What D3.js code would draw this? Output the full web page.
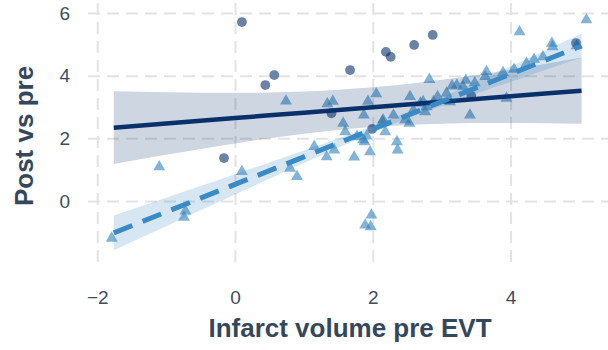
<!DOCTYPE html>
<html>
<head>
<meta charset="utf-8">
<script src="https://cdn.jsdelivr.net/npm/d3@7"></script>
<style>
  body { margin: 0; background: #fff; }
  svg { display: block; font-family: "Liberation Sans", Arial, sans-serif; }
</style>
</head>
<body>
<svg id="chart" width="608" height="350"></svg>
<script>
// Tick positions
const xTicks = [-2, 0, 2, 4];
const yTicks = [0, 2, 4, 6];

// Group 1 (circles): infarct volume pre EVT vs post/pre
const circX = [0.10, 0.44, 0.57, -0.16, 1.67, 2.19, 2.26, 2.60, 2.87, 1.99, 3.43, 4.95, 1.40];
const circY = [5.71, 3.70, 4.02, 1.37, 4.18, 4.76, 4.60, 4.98, 5.30, 2.30, 3.35, 5.04, 2.80];

// Group 2 (triangles)
const triX = [-1.79, -1.10, -0.72, -0.74, 0.10, 0.80, 0.90, 1.15, 1.33, 1.44,
              0.74, 1.34, 1.42, 1.93, 2.05, 2.82, 1.87, 1.57, 1.60, 1.73,
              1.96, 1.88, 1.77, 1.91, 2.18, 2.14, 2.35, 2.36, 2.30, 2.47,
              2.54, 2.59, 2.69, 2.78, 2.88, 2.94, 3.07, 3.12, 3.22, 2.53,
              4.13, 5.10, 4.60, 4.61, 3.94, 3.41, 3.65, 3.89, 4.05, 4.23,
              4.34, 4.47, 3.35, 3.48, 3.15, 3.31, 3.63, 4.96, 2.15, 1.86,
              1.98, 1.89, 1.97, 2.73, 2.76];
const triY = [-1.19, 1.09, -0.32, -0.52, 0.94, 1.04, 0.78, 1.74, 1.41, 1.63,
              3.19, 3.10, 3.18, 3.18, 3.42, 3.88, 2.74, 2.48, 2.21, 1.40,
              1.57, 1.89, 2.05, 2.07, 2.21, 2.53, 1.89, 1.63, 2.74, 2.59,
              3.33, 2.90, 3.12, 3.01, 3.17, 3.33, 3.44, 3.17, 3.70, 2.48,
              5.40, 5.78, 5.03, 4.92, 3.28, 2.74, 4.13, 4.10, 4.20, 4.39,
              4.52, 4.60, 3.85, 3.77, 3.67, 3.65, 3.97, 4.95, 2.59, 1.95,
              -0.45, -0.77, -0.82, 3.17, 2.85];

// Fitted lines with 95% confidence bands, sampled along x
const fitX  = [-1.76, -1, -0.5, 0, 0.5, 1, 1.5, 2, 2.5, 3, 3.5, 4, 4.5, 5.03];
const fitA  = [2.340, 2.472, 2.559, 2.646, 2.733, 2.820, 2.907, 2.994, 3.081, 3.167, 3.254, 3.341, 3.428, 3.520];
const lowA  = [1.180, 1.477, 1.663, 1.839, 2.002, 2.146, 2.267, 2.361, 2.426, 2.466, 2.486, 2.489, 2.481, 2.464];
const highA = [3.500, 3.467, 3.455, 3.453, 3.464, 3.494, 3.547, 3.627, 3.736, 3.868, 4.022, 4.193, 4.375, 4.576];
const fitB  = [-1.019, -0.350, 0.090, 0.530, 0.970, 1.410, 1.850, 2.290, 2.730, 3.170, 3.610, 4.050, 4.490, 4.956];
const lowB  = [-1.574, -0.805, -0.299, 0.206, 0.709, 1.210, 1.705, 2.185, 2.630, 3.035, 3.422, 3.801, 4.178, 4.576];
const highB = [-0.464, 0.105, 0.479, 0.854, 1.231, 1.610, 1.995, 2.395, 2.830, 3.305, 3.798, 4.299, 4.802, 5.336];

const navy = "#08306b";
const blue = "#3182bd";
const panel = { left: 88, right: 608, top: 0, bottom: 262 };

const svg = d3.select("#chart");
const x = d3.scaleLinear().domain([-2.134, 5.414]).range([panel.left, panel.right]);
const y = d3.scaleLinear().domain([-1.947, 6.415]).range([panel.bottom, panel.top]);

svg.append("defs").append("clipPath").attr("id", "panel-clip")
  .append("rect")
  .attr("x", panel.left).attr("y", panel.top)
  .attr("width", panel.right - panel.left).attr("height", panel.bottom - panel.top);

// Dashed grid
const grid = svg.append("g").attr("clip-path", "url(#panel-clip)");
grid.append("g")
  .attr("transform", `translate(0,${panel.bottom})`)
  .call(d3.axisBottom(x).tickValues(xTicks).tickSize(-(panel.bottom - panel.top)).tickFormat(""))
  .call(g => g.select(".domain").remove());
grid.append("g")
  .attr("transform", `translate(${panel.left},0)`)
  .call(d3.axisLeft(y).tickValues(yTicks).tickSize(-(panel.right - panel.left)).tickFormat(""))
  .call(g => g.select(".domain").remove());
grid.selectAll(".tick line")
  .attr("stroke", "#e3e3e3")
  .attr("stroke-width", 2)
  .attr("stroke-dasharray", "12,7");

const plot = svg.append("g").attr("clip-path", "url(#panel-clip)");

// Points
plot.append("g").selectAll("path")
  .data(d3.range(triX.length))
  .join("path")
  .attr("transform", i => `translate(${x(triX[i])},${y(triY[i])})`)
  .attr("d", d3.symbol().type(d3.symbolTriangle).size(62))
  .attr("fill", blue)
  .attr("fill-opacity", 0.6);

plot.append("g").selectAll("circle")
  .data(d3.range(circX.length))
  .join("circle")
  .attr("cx", i => x(circX[i]))
  .attr("cy", i => y(circY[i]))
  .attr("r", 4.9)
  .attr("fill", navy)
  .attr("fill-opacity", 0.6);

// Fits and confidence bands
const band = (lo, hi) => d3.area()
  .x((d, i) => x(fitX[i]))
  .y0((d, i) => y(lo[i]))
  .y1((d, i) => y(hi[i]))
  .curve(d3.curveMonotoneX)(fitX);
const line = vals => d3.line()
  .x((d, i) => x(fitX[i]))
  .y((d, i) => y(vals[i]))(fitX);

plot.append("path").attr("d", band(lowA, highA)).attr("fill", navy).attr("fill-opacity", 0.2);
plot.append("path").attr("d", line(fitA))
  .attr("fill", "none").attr("stroke", navy).attr("stroke-width", 4.5);

plot.append("path").attr("d", band(lowB, highB)).attr("fill", blue).attr("fill-opacity", 0.2);
plot.append("path").attr("d", line(fitB))
  .attr("fill", "none").attr("stroke", "#3a8bc5").attr("stroke-width", 5)
  .attr("stroke-dasharray", "20,11");

// Axis labels
const tickColor = "#3d4d60";
svg.append("g")
  .attr("transform", `translate(0,${panel.bottom})`)
  .call(d3.axisBottom(x).tickValues(xTicks).tickSize(0).tickPadding(29))
  .call(g => g.select(".domain").remove())
  .call(g => g.selectAll("text").attr("fill", tickColor).attr("font-size", 19)
    .attr("font-family", "Liberation Sans, Arial, sans-serif"));

svg.append("g")
  .attr("transform", `translate(${panel.left},0)`)
  .call(d3.axisLeft(y).tickValues(yTicks).tickSize(0).tickPadding(18))
  .call(g => g.select(".domain").remove())
  .call(g => g.selectAll("text").attr("fill", tickColor).attr("font-size", 19)
    .attr("font-family", "Liberation Sans, Arial, sans-serif"));

const titleColor = "#34475c";
svg.append("text")
  .attr("x", 350).attr("y", 337)
  .attr("text-anchor", "middle")
  .attr("font-size", 26).attr("font-weight", "bold")
  .attr("fill", titleColor)
  .text("Infarct volume pre EVT");

svg.append("text")
  .attr("transform", "translate(33,136) rotate(-90)")
  .attr("text-anchor", "middle")
  .attr("font-size", 26).attr("font-weight", "bold")
  .attr("fill", titleColor)
  .text("Post vs pre");
</script>
</body>
</html>
